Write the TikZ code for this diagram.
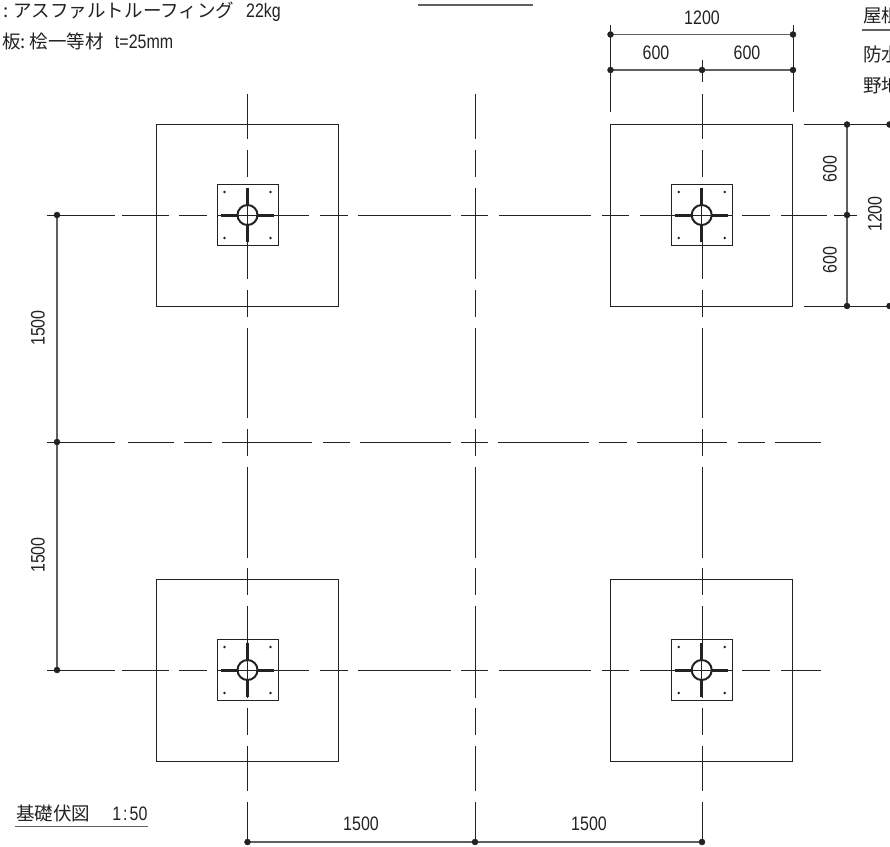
\documentclass[tikz,border=0pt]{standalone}
\usepackage{fontspec}
\setmainfont[FakeStretch=0.82]{Liberation Sans}
\newfontfamily\jpfont[Scale=0.95]{Noto Sans CJK JP}
\definecolor{inkdark}{HTML}{222222}
\definecolor{dimgrey}{HTML}{606060}
\begin{document}
\begin{tikzpicture}[x=1pt,y=-1pt,
    dimline/.style = {dimgrey,line width=1.2pt},
    extline/.style = {inkdark,line width=1pt},
    dimdot/.style  = {inkdark},
    dimtext/.style = {inkdark,inner sep=0pt,font=\fontsize{19.5}{21}\selectfont},
    notetext/.style = {inkdark,inner sep=0pt,anchor=base west,font=\fontsize{19.5}{21}\selectfont},
    axisx/.style = {inkdark,line width=.9pt,dash pattern=on 68pt off 7pt on 46.5pt off 10.5pt on 28pt off 10.5pt on 91.5pt off 11pt on 28pt off 10pt on 93pt off 10pt on 27pt off 11pt on 92pt off 11pt on 27pt off 11pt on 92pt off 10pt on 28pt off 11pt on 46pt off 7pt on 23pt off 99pt},
    axismid/.style = {inkdark,line width=.9pt,dash pattern=on 68pt off 13pt on 46pt off 10pt on 28pt off 10pt on 90pt off 11pt on 27pt off 10pt on 91pt off 10pt on 27pt off 10pt on 91pt off 10pt on 28pt off 10pt on 90pt off 11pt on 27pt off 10pt on 46pt off 99pt},
    axisy/.style = {inkdark,line width=.9pt,dash pattern=on 45pt off 11pt on 27pt off 11pt on 91pt off 11pt on 27pt off 11pt on 90pt off 11pt on 27pt off 11pt on 91pt off 10pt on 27pt off 11pt on 92pt off 10pt on 27pt off 11pt on 45pt off 11pt on 40pt off 99pt},
    footing/.pic = {
        \draw[extline] (-91,-91) rectangle (91,91);
        \draw[extline] (-30.5,-30.5) rectangle (30.5,30.5);
        \draw[inkdark,line width=3pt] (-26.5,0) -- (26.5,0);
        \draw[inkdark,line width=3pt] (0,-27) -- (0,27);
        \draw[inkdark,line width=2pt,fill=white] (0,0) circle (10pt);
        \draw[inkdark,line width=.7pt] (-10,0) -- (10,0);
        \draw[inkdark,line width=.7pt] (0,-10) -- (0,10);
        \fill[inkdark] (-23,-23) circle (1.4pt);
        \fill[inkdark] (23,-23) circle (1.4pt);
        \fill[inkdark] (-23,23) circle (1.4pt);
        \fill[inkdark] (23,23) circle (1.4pt);
    }]
    \useasboundingbox (0,0) rectangle (890,846);

    % column and row axes
    \draw[axisy] (247.5,94) -- (247.5,842);
    \draw[axisy] (475,94) -- (475,842);
    \draw[axisy] (702,94) -- (702,842);
    \draw[axisy] (702,60) -- (702,82);
    \draw[axisx] (47,215) -- (857,215);
    \draw[axismid] (47,442) -- (821,442);
    \draw[axisx] (47,670) -- (821,670);

    % footings
    \pic at (247.5,215) {footing};
    \pic at (701.7,215) {footing};
    \pic at (247.5,670) {footing};
    \pic at (701.7,670) {footing};

    % dimension points
    \coordinate (topL) at (610.5,34.5);
    \coordinate (topR) at (793,34.5);
    \coordinate (midL) at (610.5,70);
    \coordinate (midC) at (702,70);
    \coordinate (midR) at (793,70);
    \coordinate (extL) at (610.5,25);
    \coordinate (extLend) at (610.5,112);
    \coordinate (extR) at (793,25);
    \coordinate (extRend) at (793,112);
    \coordinate (sideT) at (847,124.5);
    \coordinate (sideC) at (847,215);
    \coordinate (sideB) at (847,306);
    \coordinate (farT) at (889.5,124.5);
    \coordinate (farB) at (889.5,306);
    \coordinate (extT) at (804,124.5);
    \coordinate (extB) at (804,306);
    \coordinate (leftA) at (57,215);
    \coordinate (leftB) at (57,442);
    \coordinate (leftC) at (57,670);
    \coordinate (baseA) at (247.5,842);
    \coordinate (baseB) at (475,842);
    \coordinate (baseC) at (702,842);

    \draw[extline] (extL) -- (extLend);
    \draw[extline] (extR) -- (extRend);
    \draw[extline] (extT) -- (farT);
    \draw[extline] (extB) -- (farB);
    \draw[dimline] (topL) -- (topR);
    \draw[dimline] (midL) -- (midR);
    \draw[dimline] (sideT) -- (sideB);
    \draw[dimline] (leftA) -- (leftC);
    \draw[dimline] (baseA) -- (baseC);

    \filldraw[dimdot] (topL) circle (3pt);
    \filldraw[dimdot] (topR) circle (3pt);
    \filldraw[dimdot] (midL) circle (3pt);
    \filldraw[dimdot] (midC) circle (3pt);
    \filldraw[dimdot] (midR) circle (3pt);
    \filldraw[dimdot] (sideT) circle (3pt);
    \filldraw[dimdot] (sideC) circle (3pt);
    \filldraw[dimdot] (sideB) circle (3pt);
    \filldraw[dimdot] (farT) circle (3pt);
    \filldraw[dimdot] (farB) circle (3pt);
    \filldraw[dimdot] (leftA) circle (3pt);
    \filldraw[dimdot] (leftB) circle (3pt);
    \filldraw[dimdot] (leftC) circle (3pt);
    \filldraw[dimdot] (baseA) circle (3pt);
    \filldraw[dimdot] (baseB) circle (3pt);
    \filldraw[dimdot] (baseC) circle (3pt);

    % dimension values
    \node[dimtext] (valTop) at (702,18) {1200};
    \node[dimtext] (valMidL) at (656,53) {600};
    \node[dimtext] (valMidR) at (747,53) {600};
    \node[dimtext,rotate=90] (valSideT) at (830,169) {600};
    \node[dimtext,rotate=90] (valSideB) at (830,260) {600};
    \node[dimtext,rotate=90] (valSide) at (875,214) {1200};
    \node[dimtext,rotate=90] (valLeftT) at (38,328) {1500};
    \node[dimtext,rotate=90] (valLeftB) at (38,555) {1500};
    \node[dimtext] (valBaseL) at (361,824) {1500};
    \node[dimtext] (valBaseR) at (589,824) {1500};

    % notes
    \node[notetext] (noteRoof) at (3,17) {{\jpfont :\hspace{5pt}アスファルトルーフィング}\hspace{12pt}22kg};
    \node[notetext] (noteBoard) at (2,48) {{\jpfont 板:\hspace{4pt}桧一等材}\hspace{11pt}t=25mm};
    \node[notetext] (title) at (16,820) {{\jpfont 基礎伏図}\hspace{22pt}1\kern2pt:\kern2pt50};
    \node[notetext] (sideHead) at (863,22) {\jpfont 屋根};
    \node[notetext] (sideWater) at (863,61) {\jpfont 防水};
    \node[notetext] (sideBase) at (863,92) {\jpfont 野地};

    \coordinate (ruleA) at (15,826.5);
    \coordinate (ruleB) at (148,826.5);
    \coordinate (ruleC) at (418,5);
    \coordinate (ruleD) at (533,5);
    \coordinate (ruleE) at (862,30);
    \coordinate (ruleF) at (890,30);
    \draw[dimline] (ruleA) -- (ruleB);
    \draw[dimline] (ruleC) -- (ruleD);
    \draw[dimline] (ruleE) -- (ruleF);
\end{tikzpicture}
\end{document}
